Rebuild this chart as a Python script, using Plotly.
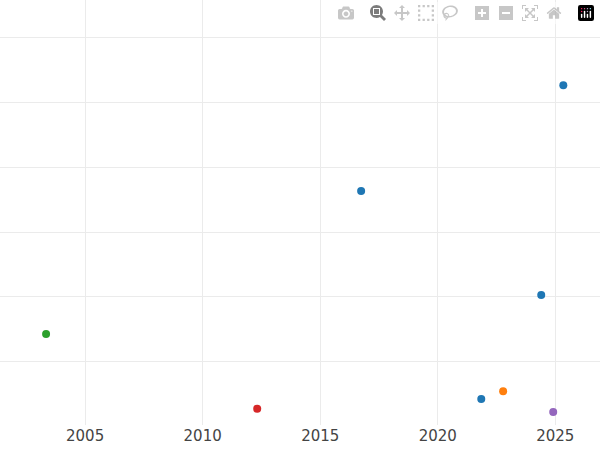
import plotly.graph_objects as go

years = [2025.34, 2016.74, 2024.40, 2003.34, 2012.32, 2021.85, 2022.78, 2024.91]
values = [5.26, 3.63, 2.03, 1.43, 0.28, 0.43, 0.55, 0.23]
colors = ["#1f77b4", "#1f77b4", "#1f77b4", "#2ca02c", "#d62728", "#1f77b4", "#ff7f0e", "#9467bd"]

fig = go.Figure(go.Scatter(
    x=years, y=values, mode="markers",
    marker=dict(color=colors, size=8),
    showlegend=False))

fig.update_layout(
    width=600, height=450,
    margin=dict(l=0, r=0, t=0, b=25),
    paper_bgcolor="white", plot_bgcolor="white",
    font=dict(family="DejaVu Sans", size=15, color="#444"),
)
fig.update_xaxes(range=[2001.38, 2026.9], tickvals=[2005, 2010, 2015, 2020, 2025],
                 showgrid=True, gridcolor="#ebebeb", zeroline=False, showline=False)
fig.update_yaxes(range=[0.03, 6.57], dtick=1, showticklabels=False,
                 showgrid=True, gridcolor="#ebebeb", zeroline=False, showline=False)

fig.write_html("out.html",
               post_script="document.body.style.margin='0';document.body.style.overflow='hidden';")
